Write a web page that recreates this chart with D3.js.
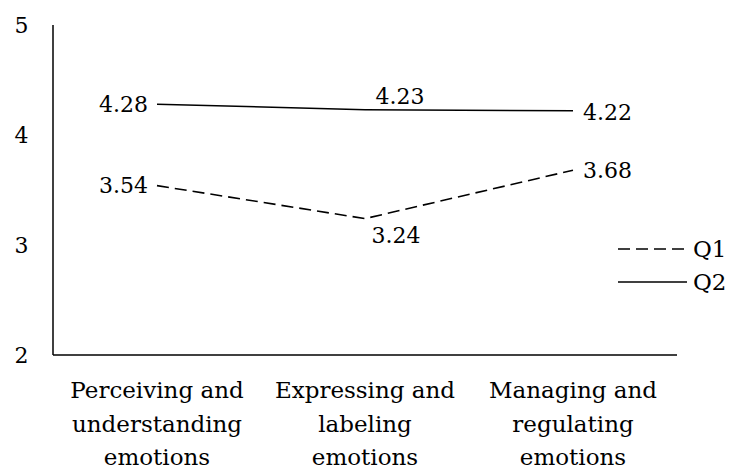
<!DOCTYPE html>
<html>
<head>
<meta charset="utf-8">
<script src="https://cdn.jsdelivr.net/npm/d3@7"></script>
<style>
  html, body { margin: 0; padding: 0; background: #fff; }
  svg text { font-family: "DejaVu Serif", serif; font-size: 22px; fill: #000; }
  svg text.cat, svg .legend text { font-size: 23px; }
</style>
</head>
<body>
<svg id="chart" width="729" height="469"></svg>
<script>
// Mean scores per emotional-skill domain, two questionnaire waves
const categories = [
  ["Perceiving and", "understanding", "emotions"],
  ["Expressing and", "labeling", "emotions"],
  ["Managing and", "regulating", "emotions"]
];
const seriesNames = ["Q1", "Q2"];
const q1Values = [3.54, 3.24, 3.68];
const q2Values = [4.28, 4.23, 4.22];
const yTicks = [2, 3, 4, 5];

const svg = d3.select("#chart");
const plot = { left: 53, right: 677, top: 25, bottom: 355 };

const x = d3.scalePoint()
  .domain(d3.range(categories.length))
  .range([plot.left, plot.right])
  .padding(0.5);

const y = d3.scaleLinear()
  .domain([2, 5])
  .range([plot.bottom, plot.top]);

// Axis lines
svg.append("line")
  .attr("x1", plot.left).attr("x2", plot.left)
  .attr("y1", y(5)).attr("y2", y(2))
  .attr("stroke", "#000").attr("stroke-width", 1.5);
svg.append("line")
  .attr("x1", plot.left).attr("x2", plot.right)
  .attr("y1", y(2)).attr("y2", y(2))
  .attr("stroke", "#000").attr("stroke-width", 1.5);

// Y tick labels
svg.selectAll(".ytick").data(yTicks).enter().append("text")
  .attr("class", "ytick")
  .attr("x", 21.5)
  .attr("y", d => y(d))
  .attr("dy", "0.35em")
  .attr("text-anchor", "middle")
  .text(d => d);

// Category labels (three lines each)
const catG = svg.selectAll(".cat").data(categories).enter().append("text")
  .attr("class", "cat")
  .attr("text-anchor", "middle")
  .attr("transform", (d, i) => `translate(${x(i)},0)`);
catG.selectAll("tspan").data(d => d).enter().append("tspan")
  .attr("x", 0)
  .attr("y", (d, j) => 398 + j * 33.5)
  .text(d => d);

const line = d3.line()
  .x((d, i) => x(i))
  .y(d => y(d));

svg.append("path")
  .datum(q1Values)
  .attr("d", line)
  .attr("fill", "none")
  .attr("stroke", "#000")
  .attr("stroke-width", 1.6)
  .attr("stroke-dasharray", "12,6");

svg.append("path")
  .datum(q2Values)
  .attr("d", line)
  .attr("fill", "none")
  .attr("stroke", "#000")
  .attr("stroke-width", 1.6);

// Data labels: [dx, dy, anchor] per point
const q1Place = [[-9, 7, "end"], [31, 24, "middle"], [10, 8, "start"]];
const q2Place = [[-9, 8, "end"], [35, -6, "middle"], [10, 9, "start"]];

function labels(values, place, cls) {
  svg.selectAll("." + cls).data(values).enter().append("text")
    .attr("class", cls)
    .attr("x", (d, i) => x(i) + place[i][0])
    .attr("y", (d, i) => y(d) + place[i][1])
    .attr("text-anchor", (d, i) => place[i][2])
    .text(d => d.toFixed(2));
}
labels(q1Values, q1Place, "lab1");
labels(q2Values, q2Place, "lab2");

// Legend
const legend = svg.selectAll(".legend").data(seriesNames).enter().append("g")
  .attr("class", "legend")
  .attr("transform", (d, i) => `translate(618,${249 + i * 33})`);
legend.append("line")
  .attr("x1", 0).attr("x2", 69)
  .attr("y1", 0).attr("y2", 0)
  .attr("stroke", "#000")
  .attr("stroke-width", 1.6)
  .attr("stroke-dasharray", (d, i) => i === 0 ? "12,6" : null);
legend.append("text")
  .attr("x", 75)
  .attr("dy", "0.35em")
  .text(d => d);
</script>
</body>
</html>
